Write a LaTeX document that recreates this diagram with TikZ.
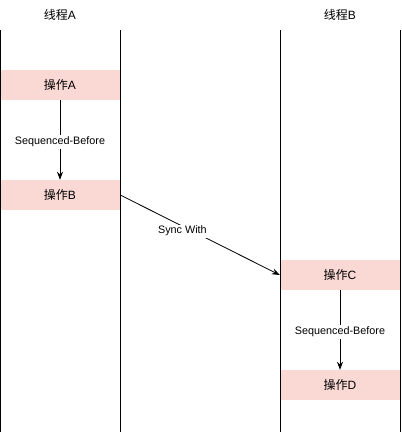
\documentclass[tikz,border=0pt]{standalone}
\usepackage{fontspec}
\setmainfont{Liberation Sans}
\newfontfamily\cjk{Noto Sans CJK SC}
\usetikzlibrary{arrows.meta}
\definecolor{opfill}{HTML}{FAD9D5}
\tikzset{
  opbox/.style={fill=opfill, draw=none, minimum width=120pt, minimum height=30pt, inner sep=0pt, font=\fontsize{12}{14}\selectfont},
  lane/.style={draw=black, line width=1pt},
  title/.style={font=\fontsize{12}{14}\selectfont},
  conn/.style={draw=black, line width=0.8pt, -{Stealth[length=8pt,width=6pt]}},
  clabel/.style={fill=white, inner sep=1.5pt, font=\fontsize{10.8}{13}\selectfont}
}
\begin{document}
\begin{tikzpicture}[x=1pt,y=-1pt]
\useasboundingbox (0,0) rectangle (402,432);
\node[title] (ta) at (60,15) {{\cjk 线程}A};
\node[title] (tb) at (340,15) {{\cjk 线程}B};
\node[opbox] (a) at (60,85) {{\cjk 操作}A};
\node[opbox] (b) at (60,195) {{\cjk 操作}B};
\node[opbox] (c) at (340,275) {{\cjk 操作}C};
\node[opbox] (d) at (340,385) {{\cjk 操作}D};
\coordinate (l1t) at (0.5,30); \coordinate (l1b) at (0.5,432);
\coordinate (l2t) at (120,30); \coordinate (l2b) at (120,432);
\coordinate (l3t) at (280,30); \coordinate (l3b) at (280,432);
\coordinate (l4t) at (400,30); \coordinate (l4b) at (400,432);
\draw[lane] (l1t) -- (l1b);
\draw[lane] (l2t) -- (l2b);
\draw[lane] (l3t) -- (l3b);
\draw[lane] (l4t) -- (l4b);
\draw[conn] (a.south) -- node[clabel, yshift=-2pt] {Sequenced-Before} (b.north);
\draw[conn] (b.east) -- node[clabel, pos=0.39, yshift=-5pt] {Sync With} (c.west);
\draw[conn] (c.south) -- node[clabel, yshift=-2pt] {Sequenced-Before} (d.north);
\end{tikzpicture}
\end{document}
